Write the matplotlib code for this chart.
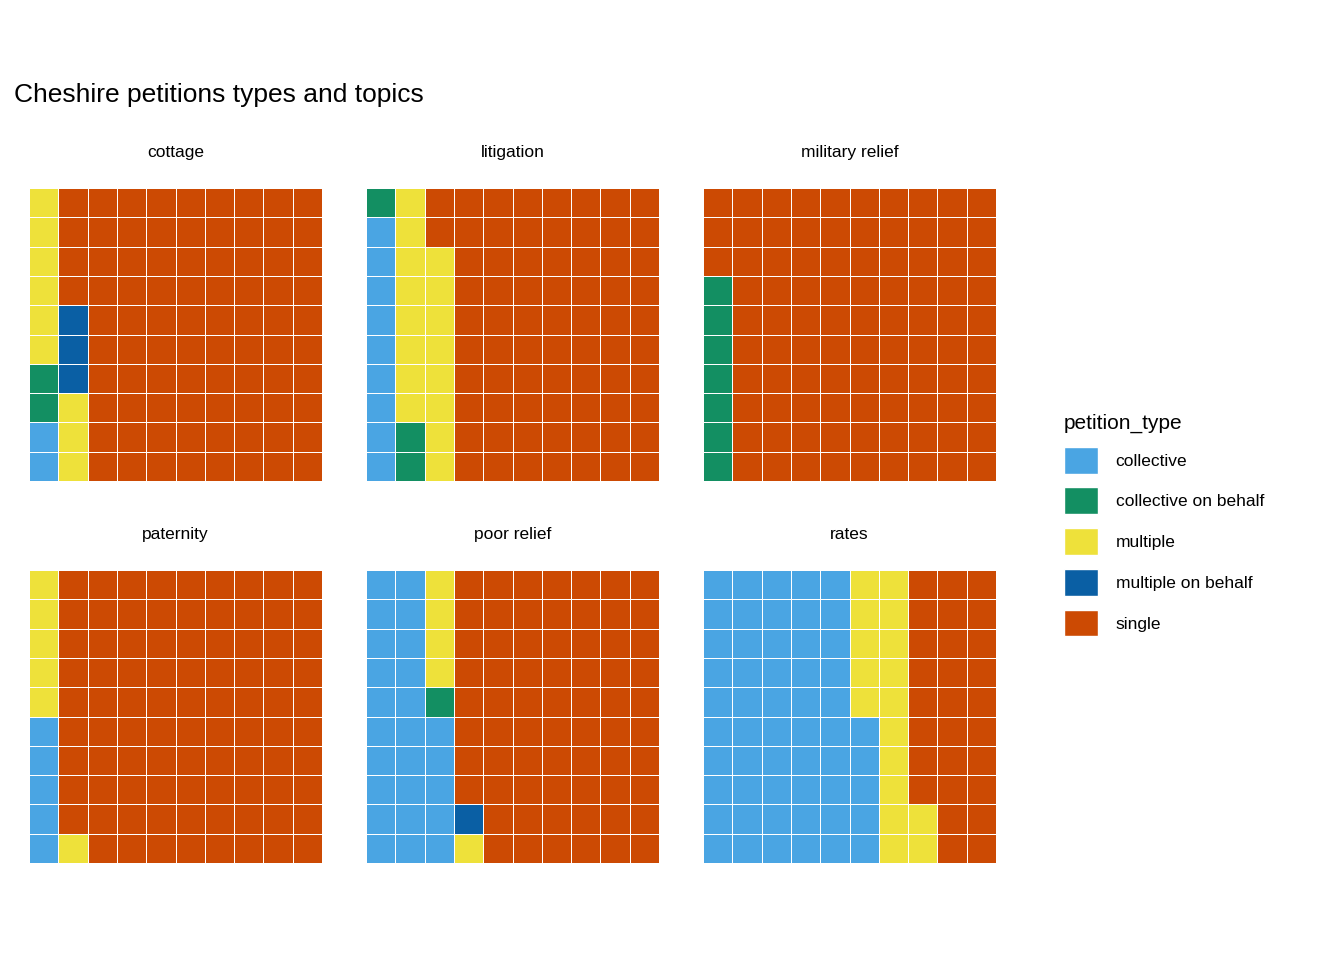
import numpy as np
import matplotlib
matplotlib.use("Agg")
import matplotlib.pyplot as plt
from matplotlib.colors import ListedColormap
from matplotlib.patches import Patch

plt.rcParams['font.family'] = ['Liberation Sans', 'DejaVu Sans']

types = ["collective", "collective on behalf", "multiple", "multiple on behalf", "single"]
colors = ["#4AA5E3", "#138F62", "#EEE13A", "#0A5FA4", "#CC4A03"]
topics = ["cottage", "litigation", "military relief", "paternity", "poor relief", "rates"]
cottage = [2, 2, 9, 3, 84]
litigation = [9, 3, 16, 0, 72]
military_relief = [0, 7, 0, 0, 93]
paternity = [5, 0, 6, 0, 89]
poor_relief = [25, 1, 5, 1, 68]
rates = [55, 0, 17, 0, 28]
counts = [cottage, litigation, military_relief, paternity, poor_relief, rates]

fig = plt.figure(figsize=(13.44, 9.6), dpi=100)
fig.text(14/1344, 1 - 95/960, "Cheshire petitions types and topics", fontsize=19, va="center")
cmap = ListedColormap(colors)

lefts = [29, 366, 703]
tops = [188, 570]
size = 293
for i, (topic, c) in enumerate(zip(topics, counts)):
    x0 = lefts[i % 3]
    y0 = tops[i // 3]
    ax = fig.add_axes([x0/1344, 1 - (y0+size)/960, size/1344, size/960])
    cells = np.repeat(np.arange(5), c)
    grid = cells.reshape(10, 10).T  # columns filled bottom to top
    ax.pcolormesh(np.arange(11), np.arange(11), grid, cmap=cmap, vmin=-0.5, vmax=4.5,
                  edgecolors="white", linewidth=0.6)
    ax.set_xlim(0, 10)
    ax.set_ylim(0, 10)
    ax.axis("off")
    ax.set_title(topic, fontsize=12.5, pad=22)

handles = [Patch(facecolor=col, edgecolor="white", label=t) for t, col in zip(types, colors)]
leg = fig.legend(handles=handles, title="petition_type", loc="center left",
                 bbox_to_anchor=(1048/1344, 1 - 525/960), frameon=False, fontsize=12.5,
                 title_fontsize=15, handlelength=2, handleheight=2, labelspacing=0.8,
                 handletextpad=1.0)
leg._legend_box.align = "left"

fig.savefig("out.png", dpi=100, facecolor="white")
